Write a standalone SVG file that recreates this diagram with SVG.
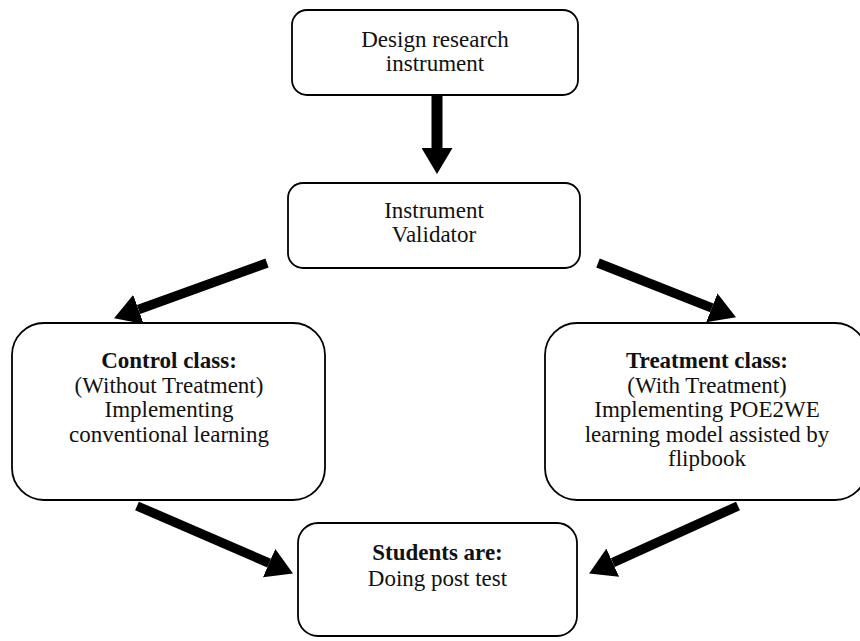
<svg xmlns="http://www.w3.org/2000/svg" width="860" height="641" viewBox="0 0 860 641">
<style>
.box{fill:#fff;stroke:#000;stroke-width:1.8}
.t{font-family:"Liberation Serif","Times New Roman",serif;font-size:23px;fill:#111;text-anchor:middle}
.b{font-weight:bold}
.arr{stroke:#000;fill:none}
</style>
<defs>
<marker id="head" viewBox="0 0 26 31" refX="0" refY="15.5" markerWidth="26" markerHeight="31" markerUnits="userSpaceOnUse" orient="auto">
<path d="M0,0 L26,15.5 L0,31 z" fill="#000"/>
</marker>
</defs>
<rect width="860" height="641" fill="#fff"/>
<g id="connectors">
<line class="arr" x1="437" y1="95" x2="437" y2="148" stroke-width="11" marker-end="url(#head)"/>
<line class="arr" x1="267" y1="263" x2="138.5" y2="309.5" stroke-width="9.5" marker-end="url(#head)"/>
<line class="arr" x1="598" y1="263" x2="711.8" y2="307.8" stroke-width="9.5" marker-end="url(#head)"/>
<line class="arr" x1="137" y1="506" x2="269.1" y2="563.1" stroke-width="9.5" marker-end="url(#head)"/>
<line class="arr" x1="738" y1="506" x2="612.8" y2="562.7" stroke-width="9.5" marker-end="url(#head)"/>
</g>
<g id="design">
<rect class="box" x="292" y="10" width="286" height="85" rx="15"/>
<text class="t" x="435" y="47">Design research</text>
<text class="t" x="435" y="71">instrument</text>
</g>
<g id="validator">
<rect class="box" x="288" y="183" width="292" height="85" rx="15"/>
<text class="t" x="434" y="218">Instrument</text>
<text class="t" x="434" y="242">Validator</text>
</g>
<g id="control">
<rect class="box" x="12" y="323" width="313" height="177" rx="32"/>
<text class="t b" x="169" y="368">Control class:</text>
<text class="t" x="169" y="392.5">(Without Treatment)</text>
<text class="t" x="169" y="417">Implementing</text>
<text class="t" x="169" y="441.5">conventional learning</text>
</g>
<g id="treatment">
<rect class="box" x="545" y="323" width="322" height="177" rx="32"/>
<text class="t b" x="707" y="368">Treatment class:</text>
<text class="t" x="707" y="392.5">(With Treatment)</text>
<text class="t" x="707" y="417">Implementing POE2WE</text>
<text class="t" x="707" y="441.5">learning model assisted by</text>
<text class="t" x="707" y="466">flipbook</text>
</g>
<g id="students">
<rect class="box" x="298" y="523" width="279" height="113" rx="20"/>
<text class="t b" x="437.5" y="560">Students are:</text>
<text class="t" x="437.5" y="586">Doing post test</text>
</g>
</svg>
